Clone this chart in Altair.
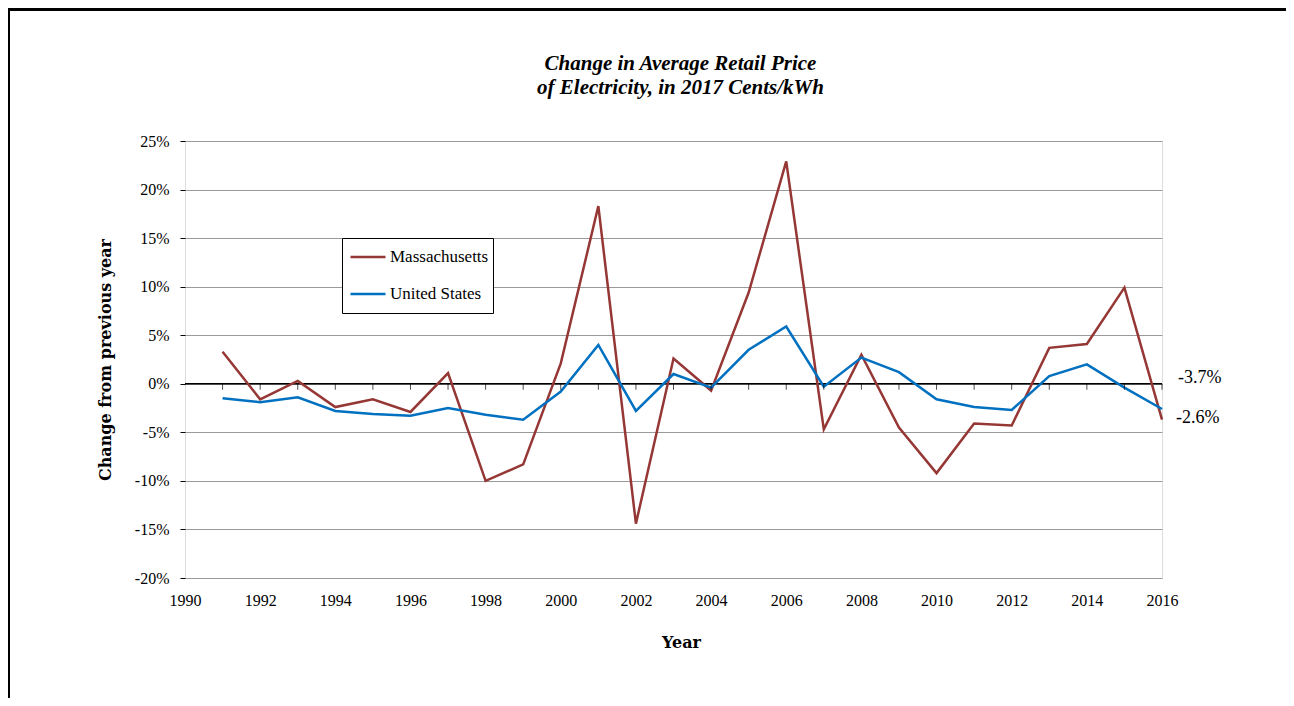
import altair as alt
import pandas as pd

years = list(range(1991, 2017))
massachusetts = [3.3, -1.6, 0.3, -2.4, -1.6, -2.9, 1.1, -10.0, -8.3, 2.1,
                 18.3, -14.4, 2.6, -0.7, 9.4, 22.9, -4.7, 3.0, -4.5, -9.2,
                 -4.1, -4.3, 3.7, 4.1, 9.9, -3.7]
united_states = [-1.5, -1.9, -1.4, -2.8, -3.1, -3.3, -2.5, -3.2, -3.7, -0.8,
                 4.0, -2.8, 1.0, -0.4, 3.5, 5.9, -0.3, 2.7, 1.2, -1.6,
                 -2.4, -2.7, 0.8, 2.0, -0.4, -2.6]
series_names = ["Massachusetts", "United States"]
series_colors = ["#953735", "#0070C0"]
x_ticks = list(range(1990, 2017, 2))
y_ticks = [-0.20, -0.15, -0.10, -0.05, 0.0, 0.05, 0.10, 0.15, 0.20, 0.25]

rows = []
for y, m, u in zip(years, massachusetts, united_states):
    rows.append({"Year": y, "Series": series_names[0], "Change": m / 100})
    rows.append({"Year": y, "Series": series_names[1], "Change": u / 100})
df = pd.DataFrame(rows)

FONT = "Liberation Serif"
TFONT = "DejaVu Serif"

x_enc = alt.X("Year:Q",
              scale=alt.Scale(domain=[1990, 2016], nice=False, zero=False),
              axis=alt.Axis(values=x_ticks, format="d", title="Year",
                            ticks=False, domain=False, grid=False,
                            labelFlush=False,
                            labelPadding=14, titlePadding=26,
                            titleX=496, titleAlign="center",
                            labelFontSize=16, titleFontSize=16,
                            titleFontWeight="bold", labelColor="black",
                            titleColor="black", labelFont=FONT, titleFont=TFONT))
y_enc = alt.Y("Change:Q",
              scale=alt.Scale(domain=[-0.20, 0.25], nice=False),
              axis=alt.Axis(values=y_ticks, format=".0%",
                            labelExpr="replace(datum.label, '\u2212', '-')",
                            title="Change from previous year",
                            tickSize=5, tickColor="black", domain=False,
                            grid=True, gridColor="#9a9a9a", gridWidth=1,
                            labelPadding=11, labelFlush=False, titlePadding=21,
                            labelFontSize=16, titleFontSize=16,
                            titleFontWeight="bold", labelColor="black",
                            titleColor="black", labelFont=FONT, titleFont=TFONT))

lines = alt.Chart(df).mark_line(strokeWidth=2.5).encode(
    x=x_enc,
    y=y_enc,
    color=alt.Color("Series:N",
                    scale=alt.Scale(domain=series_names, range=series_colors),
                    legend=alt.Legend(title=None, orient="none",
                                      legendX=157, legendY=97,
                                      symbolType="stroke", symbolSize=1225,
                                      symbolStrokeWidth=2.5, symbolOffset=3,
                                      labelFontSize=17, labelFont=FONT,
                                      labelColor="black", labelOffset=3,
                                      padding=4, rowPadding=7,
                                      strokeColor="black", fillColor="white",
                                      clipHeight=30)),
    order="Year:Q",
)

zero_rule = alt.Chart(alt.Data(values=[{"v": 0}])).mark_rule(
    color="black", strokeWidth=1.5).encode(y=alt.Y("v:Q"))

tick_df = pd.DataFrame({"Year": years, "v": [0.0] * len(years)})
zero_ticks = alt.Chart(tick_df).mark_tick(
    orient="vertical", size=6, thickness=1, color="black", yOffset=3
).encode(x=alt.X("Year:Q"), y=alt.Y("v:Q"))

end_ma = pd.DataFrame({"Year": [years[-1]], "Change": [massachusetts[-1] / 100],
                       "label": [f"{massachusetts[-1]:.1f}%"]})
end_us = pd.DataFrame({"Year": [years[-1]], "Change": [united_states[-1] / 100],
                       "label": [f"{united_states[-1]:.1f}%"]})
lab_ma = alt.Chart(end_ma).mark_text(
    align="left", baseline="middle", dx=16, dy=-42, fontSize=18, font=FONT,
    color="black").encode(x="Year:Q", y="Change:Q", text="label:N")
lab_us = alt.Chart(end_us).mark_text(
    align="left", baseline="middle", dx=14, dy=9, fontSize=18, font=FONT,
    color="black").encode(x="Year:Q", y="Change:Q", text="label:N")

frame = alt.Chart(alt.Data(values=[{"a": 1}])).mark_rect(
    fill=None, stroke="black", strokeWidth=3
).encode(x=alt.value(-176.5), y=alt.value(-131.5),
         x2=alt.value(1300), y2=alt.value(800))

chart = alt.layer(frame, zero_rule, lines, zero_ticks, lab_ma, lab_us).properties(
    width=977,
    height=437,
    title=alt.TitleParams(
        text=["Change in Average Retail Price", "of Electricity, in 2017 Cents/kWh"],
        font=FONT, fontSize=21, fontStyle="italic", fontWeight="bold",
        color="black", anchor="middle", frame="group", offset=0, dy=90,
        lineHeight=24, dx=7),
    autosize=alt.AutoSizeParams(type="none"),
    padding={"left": 177, "top": 133, "right": 124, "bottom": 120},
).configure_view(stroke="black", strokeWidth=2).configure(background="white")

chart.save("out.html", embed_options={"renderer": "svg", "actions": False})
